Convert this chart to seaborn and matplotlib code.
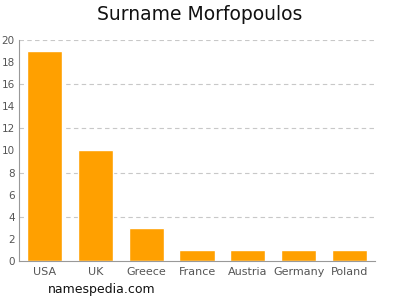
import matplotlib
matplotlib.use("Agg")
import matplotlib.pyplot as plt
import seaborn as sns
import pandas as pd

countries = ["USA", "UK", "Greece", "France", "Austria", "Germany", "Poland"]
counts = [19, 10, 3, 1, 1, 1, 1]
yticks = [0, 2, 4, 6, 8, 10, 12, 14, 16, 18, 20]
grid_levels = [4, 8, 12, 16, 20]

sns.set_style("white")
plt.rcParams['font.family'] = ['DejaVu Sans']

fig = plt.figure(figsize=(4, 3), dpi=100)
ax = fig.add_axes([0.0475, 0.13, 0.89, 0.7367])
df = pd.DataFrame({"country": countries, "count": counts})
sns.barplot(data=df, x="country", y="count", color="#ffa000", saturation=1,
            width=0.69, ax=ax, zorder=2)
ax.set_ylim(0, 20)
ax.set_xlim(-0.5, 6.5)
ax.set_yticks(yticks)
for g in grid_levels:
    ax.axhline(g, color="#c8c8c8", linestyle=(0, (4, 3)), linewidth=0.8, zorder=1)
ax.set_xlabel("")
ax.set_ylabel("")
for s in ["top", "right"]:
    ax.spines[s].set_visible(False)
for s in ["left", "bottom"]:
    ax.spines[s].set_color("#999999")
    ax.spines[s].set_linewidth(0.8)
ax.tick_params(axis="y", length=2, color="#999999", labelcolor="#555555", labelsize=7.5, pad=1)
ax.tick_params(axis="x", length=0, labelcolor="#555555", labelsize=8, pad=4)
fig.suptitle("Surname Morfopoulos", y=0.985, fontsize=13.5, color="#111111")
fig.text(0.12, 0.025, "namespedia.com", fontsize=9, color="#111111")
fig.savefig("out.png", dpi=100)
